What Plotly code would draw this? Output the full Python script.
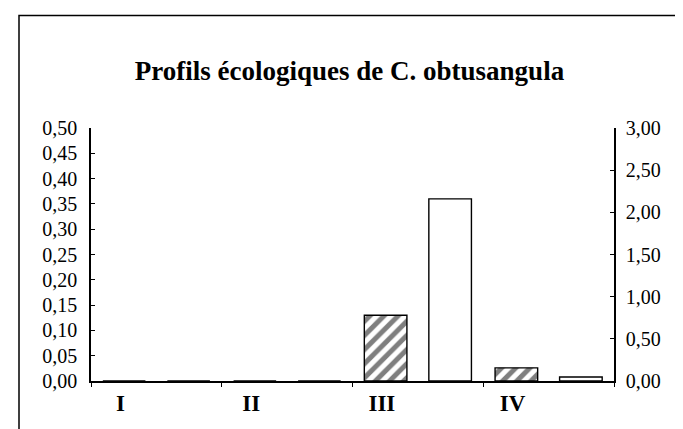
import plotly.graph_objects as go

# data
categories = ["I", "II", "III", "IV"]
hatched_values = [0.0, 0.0, 0.13, 0.026]   # left axis
white_values = [0.0, 0.0, 2.16, 0.047]     # right axis

W, H = 683, 429
plot_left, plot_right = 83, 606
plot_top, plot_bottom = 120, 373

fig = go.Figure()

fig.add_trace(
    go.Bar(
        x=categories,
        y=hatched_values,
        yaxis="y",
        offsetgroup="a",
        marker=dict(
            color="white",
            line=dict(color="black", width=1.4),
            pattern=dict(shape="/", fgcolor="black", bgcolor="white", size=10, solidity=0.5),
        ),
        showlegend=False,
    )
)
fig.add_trace(
    go.Bar(
        x=categories,
        y=white_values,
        yaxis="y2",
        offsetgroup="b",
        marker=dict(color="white", line=dict(color="black", width=1.4)),
        showlegend=False,
    )
)

# outer frame of the figure, given in pixels and turned into paper units
pw = plot_right - plot_left
ph = plot_bottom - plot_top
def px_x(x):
    return (x - plot_left) / pw
def px_y(y):
    return (plot_bottom - y) / ph

fig.add_shape(
    type="rect", xref="paper", yref="paper",
    x0=px_x(11), x1=px_x(677), y0=px_y(440), y1=px_y(7.5),
    line=dict(color="black", width=1.5), layer="below",
)

font_family = "Liberation Serif"

fig.update_layout(
    width=W,
    height=H,
    margin=dict(l=plot_left, r=W - plot_right, t=plot_top, b=H - plot_bottom),
    paper_bgcolor="white",
    plot_bgcolor="white",
    separators=", ",
    font=dict(family=font_family, size=20, color="black"),
    title=dict(
        text="<b>Profils écologiques de C. obtusangula</b>",
        x=0.5, xanchor="center", y=1 - 63 / H, yanchor="middle",
        font=dict(family=font_family, size=27, color="black"),
    ),
    barmode="group",
    bargap=0.013,
    bargroupgap=0.34,
    xaxis=dict(
        type="category",
        showline=True, linecolor="black", linewidth=1.5,
        ticks="outside", ticklen=4, tickcolor="black",
        tickson="boundaries",
        ticklabelshift=-36,
        ticklabelstandoff=1,
        tickfont=dict(family=font_family, size=23, weight="bold"),
        showgrid=False, zeroline=False,
    ),
    yaxis=dict(
        range=[0, 0.5], dtick=0.05, tickformat=".2f",
        showline=True, linecolor="black", linewidth=1.5,
        ticks="inside", ticklen=4, tickcolor="black",
        ticklabelstandoff=8,
        showgrid=False, zeroline=False,
        tickfont=dict(family=font_family, size=20),
    ),
    yaxis2=dict(
        range=[0, 3], dtick=0.5, tickformat=".2f",
        overlaying="y", side="right",
        showline=True, linecolor="black", linewidth=1.5,
        ticks="inside", ticklen=4, tickcolor="black",
        ticklabelstandoff=6,
        showgrid=False, zeroline=False,
        tickfont=dict(family=font_family, size=20),
    ),
)

fig.write_html("out.html")
